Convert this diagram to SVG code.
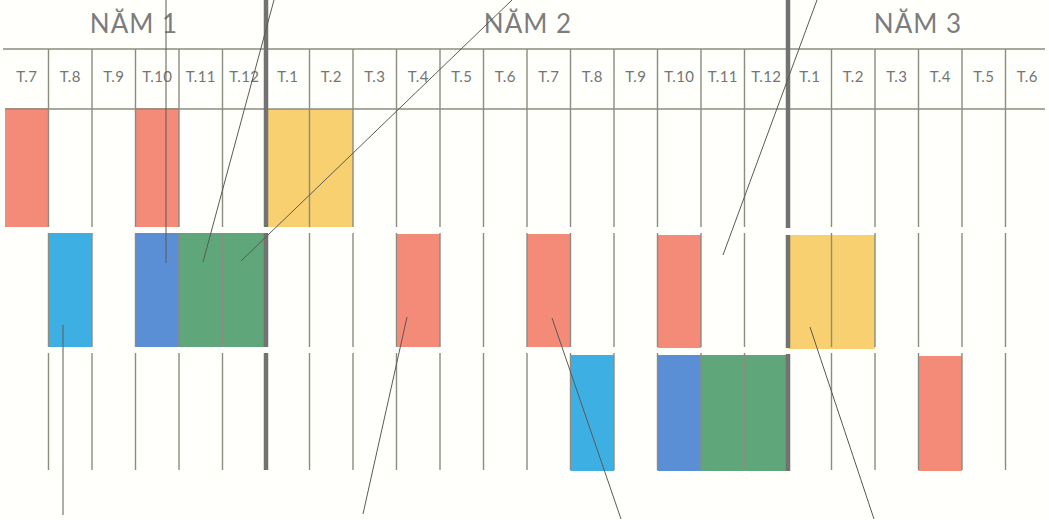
<svg xmlns="http://www.w3.org/2000/svg" width="1049" height="520" viewBox="0 0 1049 520">
<style>
.bg{fill:#fffffc}
.yr{font-family:Lato,"Open Sans","DejaVu Sans",sans-serif;font-size:26px;fill:#7c7c7c;text-anchor:middle;letter-spacing:1px}
.mo{font-family:Lato,"Open Sans","DejaVu Sans",sans-serif;font-size:15px;fill:#747474;text-anchor:middle;letter-spacing:0.3px}
.g{stroke:#8c8c80;stroke-width:1.4;fill:none}
.th{stroke:#727272;stroke-width:4.5;fill:none}
.ld{stroke:#5a5a55;stroke-width:1;fill:none}
.red{fill:#f48a78}
.yel{fill:#f9d070}
.cy{fill:#3eafe2}
.blu{fill:#5a8ed5}
.grn{fill:#5fa67a}
</style>
<rect class="bg" x="0" y="0" width="1049" height="520"/>

<g id="blocks">
  <g id="r1-red-t7"><rect class="red" x="5" y="108" width="43.5" height="119"/></g>
  <g id="r1-red-t10"><rect class="red" x="135.5" y="108" width="43.5" height="119"/></g>
  <g id="r1-yel-t1-t2"><rect class="yel" x="266" y="109" width="87" height="118"/></g>

  <g id="r2-cyan-t8"><rect class="cy" x="48.5" y="233" width="43.5" height="114"/></g>
  <g id="r2-blue-t10"><rect class="blu" x="135.5" y="233" width="43.5" height="114"/></g>
  <g id="r2-green-t11-t12"><rect class="grn" x="179" y="233" width="87" height="114"/></g>
  <g id="r2-red-t4"><rect class="red" x="396.5" y="234" width="43.5" height="113"/></g>
  <g id="r2-red-t7"><rect class="red" x="527" y="234" width="43.5" height="113"/></g>
  <g id="r2-red-t10"><rect class="red" x="657.5" y="235" width="43.5" height="113"/></g>
  <g id="r2-yel-t1-t2"><rect class="yel" x="788" y="235" width="87" height="114"/></g>

  <g id="r3-cyan-t8"><rect class="cy" x="570.5" y="355" width="43.5" height="116"/></g>
  <g id="r3-blue-t10"><rect class="blu" x="657.5" y="355" width="43.5" height="116"/></g>
  <g id="r3-green-t11-t12"><rect class="grn" x="701" y="355" width="87" height="116"/></g>
  <g id="r3-red-t4"><rect class="red" x="918.5" y="356" width="43.5" height="115"/></g>
</g>

<g id="grid">
  <line class="g" x1="3" y1="49" x2="1045" y2="49"/>
  <line class="g" x1="5" y1="109" x2="1045" y2="109"/>
  <path class="g" d="M48.5 49V227M92 49V227M135.5 49V227M179 49V227M222.5 49V227M309.5 49V227M353 49V227M396.5 49V227M440 49V227M483.5 49V227M527 49V227M570.5 49V227M614 49V227M657.5 49V227M701 49V227M744.5 49V227M831.5 49V227M875 49V227M918.5 49V227M962 49V227M1005.5 49V227"/>
  <path class="g" d="M48.5 233V347M92 233V347M135.5 233V347M179 233V347M222.5 233V347M309.5 233V347M353 233V347M396.5 233V347M440 233V347M483.5 233V347M527 233V347M570.5 233V347M614 233V347M657.5 233V347M701 233V347M744.5 233V347M831.5 233V347M875 233V347M918.5 233V347M962 233V347M1005.5 233V347"/>
  <path class="g" d="M48.5 353V470M92 353V470M135.5 353V470M179 353V470M222.5 353V470M309.5 353V470M353 353V470M396.5 353V470M440 353V470M483.5 353V470M527 353V470M570.5 353V470M614 353V470M657.5 353V470M701 353V470M744.5 353V470M831.5 353V470M875 353V470M918.5 353V470M962 353V470M1005.5 353V470"/>
  <path class="th" d="M266 0V227M266 233V347M266 353V470M788 0V228M788 235V348M788 354V471"/>
</g>

<g id="labels">
  <text class="yr" x="134" y="33">NĂM 1</text>
  <text class="yr" x="528" y="33">NĂM 2</text>
  <text class="yr" x="918" y="33">NĂM 3</text>
  <text class="mo" x="26.75" y="82">T.7</text>
  <text class="mo" x="70.25" y="82">T.8</text>
  <text class="mo" x="113.75" y="82">T.9</text>
  <text class="mo" x="157.25" y="82">T.10</text>
  <text class="mo" x="200.75" y="82">T.11</text>
  <text class="mo" x="244.25" y="82">T.12</text>
  <text class="mo" x="287.75" y="82">T.1</text>
  <text class="mo" x="331.25" y="82">T.2</text>
  <text class="mo" x="374.75" y="82">T.3</text>
  <text class="mo" x="418.25" y="82">T.4</text>
  <text class="mo" x="461.75" y="82">T.5</text>
  <text class="mo" x="505.25" y="82">T.6</text>
  <text class="mo" x="548.75" y="82">T.7</text>
  <text class="mo" x="592.25" y="82">T.8</text>
  <text class="mo" x="635.75" y="82">T.9</text>
  <text class="mo" x="679.25" y="82">T.10</text>
  <text class="mo" x="722.75" y="82">T.11</text>
  <text class="mo" x="766.25" y="82">T.12</text>
  <text class="mo" x="809.75" y="82">T.1</text>
  <text class="mo" x="853.25" y="82">T.2</text>
  <text class="mo" x="896.75" y="82">T.3</text>
  <text class="mo" x="940.25" y="82">T.4</text>
  <text class="mo" x="983.75" y="82">T.5</text>
  <text class="mo" x="1027.25" y="82">T.6</text>
</g>

<g id="connectors">
  <line class="ld" x1="166" y1="0" x2="166" y2="263"/>
  <line class="ld" x1="274" y1="0" x2="203" y2="262"/>
  <line class="ld" x1="512" y1="0" x2="241" y2="261"/>
  <line class="ld" x1="817" y1="0" x2="723" y2="255"/>
  <line class="ld" x1="63" y1="325" x2="63" y2="515"/>
  <line class="ld" x1="407" y1="317" x2="363" y2="514"/>
  <line class="ld" x1="552" y1="318" x2="621" y2="519"/>
  <line class="ld" x1="810" y1="327" x2="874" y2="519"/>
</g>
</svg>
